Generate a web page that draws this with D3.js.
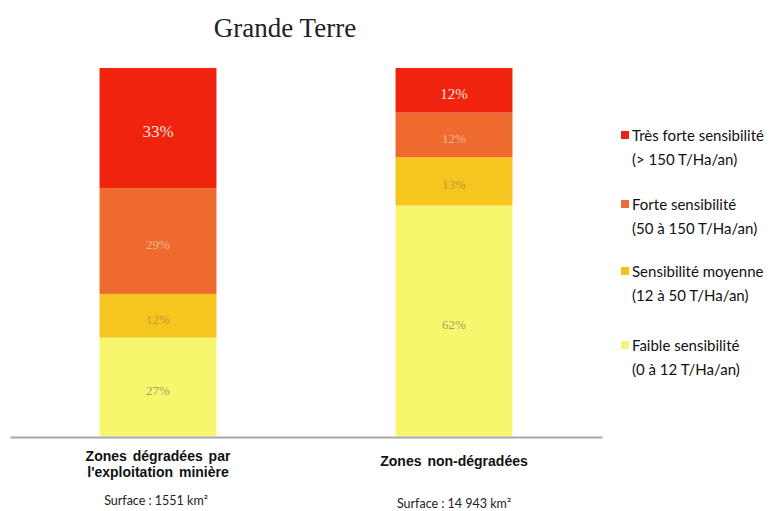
<!DOCTYPE html>
<html><head><meta charset="utf-8">
<script src="https://cdn.jsdelivr.net/npm/d3@7"></script>
<style>body{margin:0;background:#fff}</style>
</head><body>
<script>
const categories = ["Zones dégradées par|l'exploitation minière", "Zones non-dégradées"];
const surfaces = ["Surface : 1551 km²", "Surface : 14 943 km²"];
const seriesKeys = ["faible", "moyenne", "forte", "tresForte"];
const faible = [27, 62];
const moyenne = [12, 13];
const forte = [29, 12];
const tresForte = [33, 12];
const legendLabels = [
  ["Très forte sensibilité", "(> 150 T/Ha/an)"],
  ["Forte sensibilité", "(50 à 150 T/Ha/an)"],
  ["Sensibilité moyenne", "(12 à 50 T/Ha/an)"],
  ["Faible sensibilité", "(0 à 12 T/Ha/an)"]
];
const colors = {tresForte:"#f0230f", forte:"#ee6a2e", moyenne:"#f7c520", faible:"#f7f66c"};
const legendColors = {tresForte:"#e42217", forte:"#ef6c3a", moyenne:"#f5c21c", faible:"#f6f47a"};
const labelColors = {tresForte:"#fbe3dc", forte:"#f8b896", moyenne:"#b99a3a", faible:"#a3a064"};

const W = 775, H = 511;
const svg = d3.select("body").append("svg").attr("width", W).attr("height", H);

const table = categories.map((c, i) => ({cat: c, faible: faible[i], moyenne: moyenne[i], forte: forte[i], tresForte: tresForte[i]}));
const stack = d3.stack().keys(seriesKeys).offset(d3.stackOffsetExpand);
const layers = stack(table);

const x = d3.scaleBand().domain(categories).range([10, 602]).paddingInner(0.605).paddingOuter(0.3025);
const y = d3.scaleLinear().domain([0, 1]).range([436, 68]);

// title
svg.append("text").attr("x", 285).attr("y", 37).attr("text-anchor", "middle")
  .attr("font-family", "Liberation Serif, serif").attr("font-size", 27).attr("fill", "#222")
  .text("Grande Terre");

const g = svg.append("g");
layers.forEach(layer => {
  const key = layer.key;
  g.selectAll(null).data(layer).enter().append("rect")
    .attr("x", d => x(d.data.cat)).attr("width", x.bandwidth())
    .attr("y", d => y(d[1])).attr("height", d => y(d[0]) - y(d[1]))
    .attr("fill", colors[key]);
  g.selectAll(null).data(layer).enter().append("text")
    .attr("x", d => x(d.data.cat) + x.bandwidth() / 2)
    .attr("y", d => (y(d[0]) + y(d[1])) / 2 + 5)
    .attr("text-anchor", "middle")
    .attr("dominant-baseline", "middle")
    .attr("font-family", "Liberation Serif, serif")
    .attr("font-size", (d, i) => key === "tresForte" ? (i === 0 ? 17 : 15) : 13)
    .attr("fill", labelColors[key])
    .text(d => d.data[key] + "%");
});

// axis baseline
const axis = d3.axisBottom(x).tickSize(0).tickFormat("");
const ax = svg.append("g").attr("transform", "translate(0,437)").call(axis);
ax.select(".domain").attr("stroke", "#a8a8a8").attr("stroke-width", 2);

// category labels
categories.forEach((c, i) => {
  const lines = c.split("|");
  const cx = x(c) + x.bandwidth() / 2;
  const base = lines.length > 1 ? 461 : 466;
  lines.forEach((l, j) => {
    svg.append("text").attr("x", cx).attr("y", base + j * 16).attr("text-anchor", "middle")
      .attr("font-family", "Liberation Sans, Arial, sans-serif").attr("font-weight", "bold")
      .attr("font-size", 14).attr("word-spacing", 2).attr("fill", "#111").text(l);
  });
  svg.append("text").attr("x", cx - (i === 0 ? 2 : 0)).attr("y", i === 0 ? 505 : 508).attr("text-anchor", "middle")
    .attr("font-family", "Lato, sans-serif").attr("font-size", 12.5).attr("fill", "#222").text(surfaces[i]);
});

// legend
const legendKeys = ["tresForte", "forte", "moyenne", "faible"];
const legendY = [141, 210, 277, 351];
legendKeys.forEach((k, i) => {
  const ly = legendY[i];
  svg.append("rect").attr("x", 621).attr("y", ly - 10).attr("width", 8).attr("height", 8).attr("fill", legendColors[k]);
  legendLabels[i].forEach((t, j) => {
    svg.append("text").attr("x", 632).attr("y", ly + j * 24).attr("font-family", "Lato, sans-serif")
      .attr("font-size", 15).attr("fill", "#111").text(t);
  });
});
</script>
</body></html>
